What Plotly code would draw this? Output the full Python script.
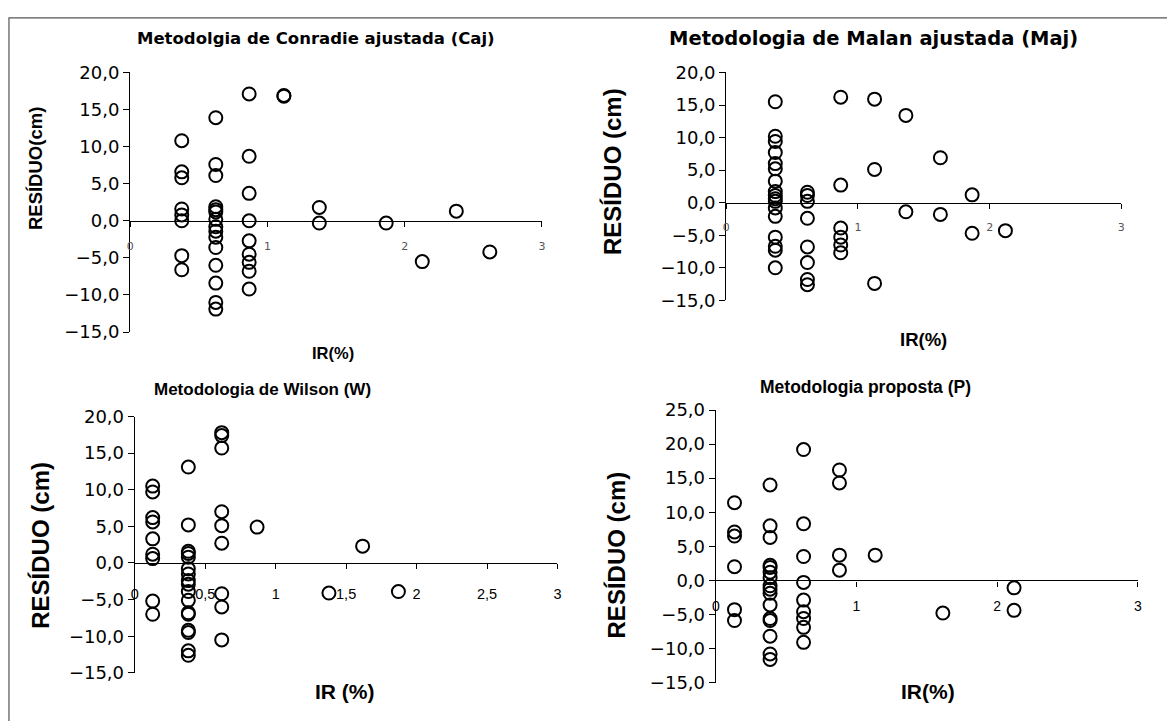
import plotly.graph_objects as go

W, H = 1167, 721

# ---- data: IR (%) and residual (cm) for each methodology ----
caj_ir = [0.376] * 8 + [0.624] * 15 + [0.867] * 9 + [1.12] * 2 + [1.378] * 2 + [1.865, 2.128, 2.376, 2.62]
caj_res = [10.8, 6.6, 5.8, 1.6, 0.8, 0.0, -4.7, -6.6,
           13.9, 7.6, 6.1, 1.9, 1.5, 1.2, 0.2, -0.8, -1.4, -2.2, -3.6, -6.0, -8.4, -11.0, -11.9,
           17.1, 8.7, 3.7, 0.0, -2.7, -4.5, -5.6, -6.8, -9.2,
           16.9, 16.8,
           1.8, -0.3,
           -0.3, -5.5, 1.3, -4.2]

maj_ir = [0.372] * 17 + [0.616] * 8 + [0.869] * 6 + [1.126] * 3 + [1.364] * 2 + [1.626] * 2 + [1.867] * 2 + [2.12]
maj_res = [15.5, 10.2, 9.4, 7.7, 6.0, 5.2, 3.3, 1.7, 1.1, 0.6, 0.2, -0.8, -2.1, -5.3, -6.7, -7.3, -10.0,
           1.6, 1.1, 0.2, -2.4, -6.8, -9.2, -11.8, -12.6,
           16.2, 2.7, -3.9, -5.3, -6.5, -7.7,
           15.9, 5.1, -12.4,
           13.4, -1.4,
           6.9, -1.8,
           1.2, -4.7,
           -4.3]

wil_ir = [0.127] * 9 + [0.38] * 17 + [0.617] * 9 + [0.868, 1.378, 1.617, 1.871]
wil_res = [10.5, 9.7, 6.2, 5.6, 3.3, 1.2, 0.6, -5.2, -7.0,
           13.1, 5.2, 1.6, 1.3, 0.8, -0.8, -1.5, -2.4, -2.9, -3.9, -5.1, -6.8, -7.0, -9.2, -9.5, -12.0, -12.6,
           17.8, 17.4, 15.7, 7.0, 5.1, 2.7, -4.2, -6.0, -10.5,
           4.9, -4.1, 2.3, -3.9]

pro_ir = [0.133] * 6 + [0.386] * 16 + [0.624] * 9 + [0.879] * 4 + [1.133, 1.614, 2.12, 2.12]
pro_res = [11.4, 7.1, 6.5, 2.0, -4.3, -5.9,
           14.0, 8.0, 6.3, 2.2, 1.9, 1.2, 0.4, -0.8, -1.3, -1.9, -3.6, -5.6, -5.9, -8.2, -10.8, -11.6,
           19.2, 8.3, 3.5, -0.3, -2.9, -4.6, -5.6, -6.9, -9.1,
           16.2, 14.3, 3.7, 1.5,
           3.7, -4.8, -1.1, -4.4]

titles = ["Metodolgia de Conradie ajustada (Caj)", "Metodologia de Malan ajustada (Maj)",
          "Metodologia de Wilson (W)", "Metodologia proposta (P)"]
y_titles = ["RESÍDUO(cm)", "RESÍDUO (cm)", "RESÍDUO (cm)", "RESÍDUO (cm)"]
x_titles = ["IR(%)", "IR(%)", "IR (%)", "IR(%)"]

x_ticks_int = [0, 1, 2, 3]
x_ticks_int_txt = ["0", "1", "2", "3"]
x_ticks_half = [0, 0.5, 1, 1.5, 2, 2.5, 3]
x_ticks_half_txt = ["0", "0,5", "1", "1,5", "2", "2,5", "3"]

ARIAL = "Liberation Sans, Arial, sans-serif"
WIDE = "DejaVu Sans, Verdana, sans-serif"


def px(x):
    """window x pixel -> paper fraction"""
    return x / W


def py(y):
    """window y pixel -> paper fraction"""
    return 1 - y / H


# plot areas in window pixels: (left, right, top, bottom), y ranges, text styles
panels = [
    dict(ir=caj_ir, res=caj_res, box=(127, 541.7, 63.3, 330.7), yr=(-15, 20),
         xt=(x_ticks_int, x_ticks_int_txt), xtfont=dict(family=WIDE, size=11, color="#555555"),
         xstand=10,
         tfont=dict(family=WIDE, size=16.5), title_xy=(314, 28),
         yfont=dict(family=ARIAL, size=18.5), ytitle_xy=(32, 162),
         xfont=dict(family=ARIAL, size=16.5), xtitle_xy=(331, 352)),
    dict(ir=maj_ir, res=maj_res, box=(727.3, 1125, 63.3, 298), yr=(-15, 20),
         xt=(x_ticks_int, x_ticks_int_txt), xtfont=dict(family=WIDE, size=11, color="#555555"),
         xstand=9,
         tfont=dict(family=WIDE, size=19.5), title_xy=(876, 28),
         yfont=dict(family=ARIAL, size=24), ytitle_xy=(612, 165),
         xfont=dict(family=ARIAL, size=18.5), xtitle_xy=(926, 338)),
    dict(ir=wil_ir, res=wil_res, box=(131.7, 557.3, 417.7, 681.7), yr=(-15, 20),
         xt=(x_ticks_half, x_ticks_half_txt), xtfont=dict(family=ARIAL, size=14.5, color="#000000"),
         xstand=12,
         tfont=dict(family=ARIAL, size=17), title_xy=(260, 390),
         yfont=dict(family=ARIAL, size=24), ytitle_xy=(37, 550),
         xfont=dict(family=ARIAL, size=21), xtitle_xy=(343, 701)),
    dict(ir=pro_ir, res=pro_res, box=(716.7, 1141.7, 411, 691.7), yr=(-15, 25),
         xt=(x_ticks_int, x_ticks_int_txt), xtfont=dict(family=ARIAL, size=14, color="#000000"),
         xstand=8,
         tfont=dict(family=ARIAL, size=17.5), title_xy=(867, 387),
         yfont=dict(family=ARIAL, size=24), ytitle_xy=(617, 560),
         xfont=dict(family=ARIAL, size=21), xtitle_xy=(930, 701)),
]

fig = go.Figure()
annotations = []
layout = {}

for i, p in enumerate(panels, start=1):
    xa = "x" if i == 1 else f"x{i}"
    ya = "y" if i == 1 else f"y{i}"
    left, right, top, bottom = p["box"]
    xd = [px(left), px(right)]
    yd = [py(bottom), py(top)]
    ymin, ymax = p["yr"]
    zero_pos = yd[0] + (0 - ymin) / (ymax - ymin) * (yd[1] - yd[0])

    fig.add_trace(go.Scatter(
        x=p["ir"], y=p["res"], mode="markers", xaxis=xa, yaxis=ya,
        marker=dict(symbol="circle-open", size=13, color="#000000",
                    line=dict(width=2, color="#000000")),
        showlegend=False, hoverinfo="x+y"))

    layout["xaxis" if i == 1 else f"xaxis{i}"] = dict(
        domain=xd, range=[0, 3], anchor="free", position=zero_pos,
        showline=True, linecolor="#000000", linewidth=1.3,
        ticks="outside", ticklen=5, tickwidth=1, tickcolor="#000000",
        tickvals=p["xt"][0], ticktext=p["xt"][1],
        tickfont=p["xtfont"], ticklabelstandoff=p["xstand"],
        showgrid=False, zeroline=False, fixedrange=True)
    layout["yaxis" if i == 1 else f"yaxis{i}"] = dict(
        domain=yd, range=[ymin, ymax], anchor=xa,
        showline=True, linecolor="#000000", linewidth=1.3,
        ticks="outside", ticklen=6, tickwidth=1, tickcolor="#000000",
        dtick=5, tick0=0, tickformat=".1f",
        tickfont=dict(family=WIDE, size=18, color="#000000"),
        showgrid=False, zeroline=False, fixedrange=True)

    tx, ty = p["title_xy"]
    annotations.append(dict(text=f"<b>{titles[i-1]}</b>", x=px(tx), y=py(ty),
                            xref="paper", yref="paper", showarrow=False,
                            xanchor="center", yanchor="middle",
                            font=dict(color="#000000", **p["tfont"])))
    yx, yy = p["ytitle_xy"]
    annotations.append(dict(text=f"<b>{y_titles[i-1]}</b>", x=px(yx), y=py(yy),
                            xref="paper", yref="paper", showarrow=False, textangle=-90,
                            xanchor="center", yanchor="middle",
                            font=dict(color="#000000", **p["yfont"])))
    xx, xy = p["xtitle_xy"]
    annotations.append(dict(text=f"<b>{x_titles[i-1]}</b>", x=px(xx), y=py(xy),
                            xref="paper", yref="paper", showarrow=False,
                            xanchor="center", yanchor="middle",
                            font=dict(color="#000000", **p["xfont"])))

fig.update_layout(
    width=W, height=H, margin=dict(l=0, r=0, t=0, b=0),
    paper_bgcolor="#ffffff", plot_bgcolor="rgba(0,0,0,0)",
    separators=",.", annotations=annotations,
    shapes=[dict(type="rect", xref="paper", yref="paper",
                 x0=px(5), x1=1.05, y0=-0.05, y1=py(7),
                 line=dict(color="#555555", width=1.2))],
    **layout)

fig.write_html("out.html")
